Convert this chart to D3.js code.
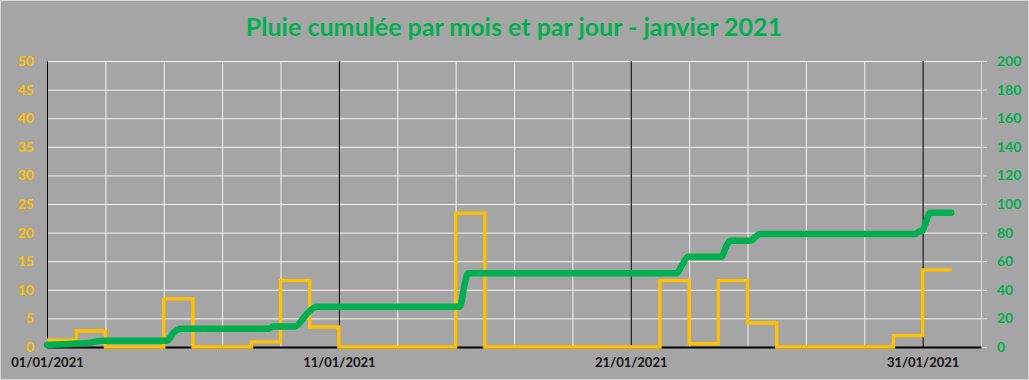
<!DOCTYPE html>
<html>
<head>
<meta charset="utf-8">
<script src="https://cdn.jsdelivr.net/npm/d3@7"></script>
<style>
  html, body { margin: 0; padding: 0; background: #a5a5a5; }
  svg { display: block; }
  text { font-family: Lato, "Open Sans", sans-serif; font-weight: bold; }
</style>
</head>
<body>
<svg id="chart" width="1029" height="380"></svg>
<script>
// daily rain (mm), 01/01 .. 31/01
const days = d3.range(1, 32);
const dailyRain = [1.2, 2.8, 0, 0, 8.4, 0, 0, 0.9, 11.6, 3.5,
  0, 0, 0, 0, 23.4, 0, 0, 0, 0, 0,
  0, 11.6, 0.6, 11.6, 4.2, 0, 0, 0, 0, 2.0,
  13.5];

// cumulated rain over the month (mm), read at the break points of the curve
const cumulTimes = ['2021-01-01 00:00', '2021-01-02 02:30', '2021-01-02 09:30', '2021-01-02 21:30',
  '2021-01-05 02:30', '2021-01-05 08:00', '2021-01-05 14:30', '2021-01-08 14:30', '2021-01-08 18:00',
  '2021-01-09 12:00', '2021-01-09 18:45', '2021-01-09 21:30', '2021-01-10 05:45', '2021-01-15 03:30',
  '2021-01-15 07:40', '2021-01-15 10:20', '2021-01-22 13:40', '2021-01-22 18:00', '2021-01-22 23:15',
  '2021-01-24 02:40', '2021-01-24 06:15', '2021-01-24 09:40', '2021-01-25 02:00', '2021-01-25 10:20',
  '2021-01-30 18:00', '2021-01-30 20:30', '2021-01-30 23:30', '2021-01-31 03:00', '2021-01-31 06:00',
  '2021-01-31 23:30'];
const cumulRain = [1.4, 2.4, 2.8, 4.3,
  4.3, 10.0, 12.8, 12.8, 14.4,
  14.4, 20, 23, 28.2, 28.2,
  45, 51.5, 51.5, 57, 63.1,
  63.1, 70, 74.3, 74.3, 79,
  79, 80.6, 81, 88, 93.9,
  93.9];

const leftTicks = d3.range(0, 51, 5);
const rightTicks = d3.range(0, 201, 20);
const dateLabels = ['2021-01-01', '2021-01-11', '2021-01-21', '2021-01-31'];

const title = 'Pluie cumulée par mois et par jour - janvier 2021';
const yellow = '#ffc000';
const green = '#00b050';

const W = 1029, H = 380;
const margin = { top: 61, right: 48, bottom: 33, left: 47 };
const svg = d3.select('#chart');

svg.append('rect').attr('x', 0.5).attr('y', 0.5).attr('width', W - 1).attr('height', H - 1)
  .attr('fill', '#a5a5a5').attr('stroke', '#d9d9d9');

const parseTime = d3.timeParse('%Y-%m-%d %H:%M');
const parseDay = d3.timeParse('%Y-%m-%d');
const start = parseDay('2021-01-01');
const end = parseDay('2021-02-02');

const x = d3.scaleTime().domain([start, end]).range([margin.left, W - margin.right]);
const yL = d3.scaleLinear().domain([0, 50]).range([H - margin.bottom, margin.top]);
const yR = d3.scaleLinear().domain([0, 200]).range([H - margin.bottom, margin.top]);

// horizontal grid
svg.append('g').attr('class', 'hgrid')
  .attr('transform', `translate(${margin.left},0)`)
  .call(d3.axisLeft(yL).tickValues(leftTicks.slice(1)).tickSize(-(W - margin.right - margin.left)).tickFormat(''))
  .call((g) => g.select('.domain').remove())
  .call((g) => g.selectAll('line').attr('stroke', '#f2f2f2').attr('stroke-width', 1));

// vertical grid : white every 2 days, black every 10 days
const minorDays = d3.timeDay.range(start, d3.timeDay.offset(end, 1), 2);
svg.append('g').attr('class', 'vgrid')
  .attr('transform', `translate(0,${H - margin.bottom})`)
  .call(d3.axisBottom(x).tickValues(minorDays).tickSize(-(H - margin.bottom - margin.top)).tickFormat(''))
  .call((g) => g.select('.domain').remove())
  .call((g) => g.selectAll('line')
    .attr('stroke', (d) => (d3.timeDay.count(start, d) % 10 === 0 ? '#000' : '#f2f2f2'))
    .attr('stroke-width', 1));

// right axis
svg.append('g').attr('class', 'axis-right')
  .attr('transform', `translate(${W - margin.right},0)`)
  .call(d3.axisRight(yR).tickValues(rightTicks).tickSize(6).tickPadding(10))
  .call((g) => g.select('.domain').attr('stroke', '#d9d9d9'))
  .call((g) => g.selectAll('line').attr('stroke', '#d9d9d9'))
  .call((g) => g.selectAll('text').attr('fill', green).style('font-size', '14px'));

// left axis labels
svg.append('g').attr('class', 'axis-left')
  .attr('transform', `translate(${margin.left},0)`)
  .call(d3.axisLeft(yL).tickValues(leftTicks).tickSize(0).tickPadding(13))
  .call((g) => g.select('.domain').remove())
  .call((g) => g.selectAll('text').attr('fill', yellow).style('font-size', '14px'));

// bottom axis
svg.append('g').attr('class', 'axis-bottom')
  .attr('transform', `translate(0,${H - margin.bottom})`)
  .call(d3.axisBottom(x).tickValues(dateLabels.map(parseDay)).tickSize(0).tickPadding(11)
    .tickFormat(d3.timeFormat('%d/%m/%Y')))
  .call((g) => g.select('.domain').attr('stroke', '#000').attr('stroke-width', 2))
  .call((g) => g.selectAll('text').attr('fill', '#111').style('font-size', '13px'));

// daily rain as steps
const dailyPts = days.map((d, i) => ({ t: d3.timeDay.offset(start, d - 1), v: dailyRain[i] }));
dailyPts.push({ t: d3.timeDay.offset(start, days.length), v: dailyRain[dailyRain.length - 1] });
svg.append('path').datum(dailyPts)
  .attr('fill', 'none').attr('stroke', yellow).attr('stroke-width', 3.3)
  .attr('d', d3.line().curve(d3.curveStepAfter).x((d) => x(d.t)).y((d) => yL(d.v)));

// cumulated rain
const cumulPts = cumulTimes.map((t, i) => ({ t: parseTime(t), v: cumulRain[i] }));
svg.append('path').datum(cumulPts)
  .attr('fill', 'none').attr('stroke', green).attr('stroke-width', 6.5)
  .attr('stroke-linejoin', 'round').attr('stroke-linecap', 'round')
  .attr('d', d3.line().curve(d3.curveMonotoneX).x((d) => x(d.t)).y((d) => yR(d.v)));

// title
const t = svg.append('text').attr('x', 514).attr('y', 36).attr('text-anchor', 'middle')
  .attr('fill', green).style('font-size', '25px').text(title);
const tw = t.node().getComputedTextLength();
t.style('font-size', `${(25 * 536 / tw).toFixed(1)}px`);
</script>
</body>
</html>
